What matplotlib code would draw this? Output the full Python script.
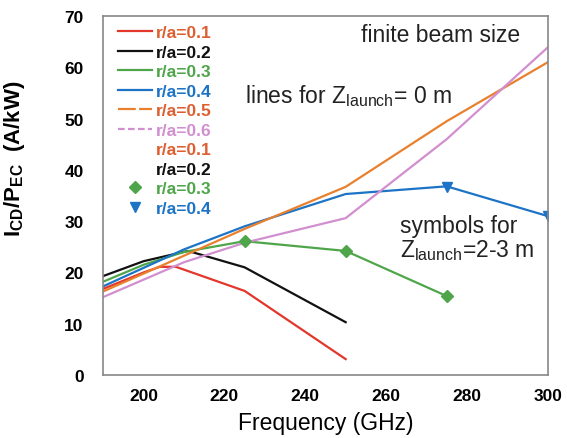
import matplotlib
matplotlib.use("Agg")
import matplotlib.pyplot as plt
from matplotlib.lines import Line2D

plt.rcParams['font.family'] = ['Liberation Sans', 'DejaVu Sans']
plt.rcParams['mathtext.fontset'] = 'custom'
plt.rcParams['mathtext.rm'] = 'Liberation Sans'
plt.rcParams['mathtext.bf'] = 'Liberation Sans:bold'

# Lines (Z_launch = 0 m)
f_01 = [190, 200, 204, 208, 225, 250]
v_01 = [16.8, 20.0, 21.1, 21.1, 16.4, 3.1]
f_02 = [190, 200, 211, 225, 250]
v_02 = [19.3, 22.2, 24.2, 21.0, 10.3]
f_03 = [190, 200, 210, 225, 250, 275]
v_03 = [18.2, 21.5, 24.0, 26.1, 24.2, 15.4]
f_04 = [190, 210, 225, 250, 275, 300]
v_04 = [17.3, 24.5, 29.0, 35.3, 36.8, 31.0]
f_05 = [190, 225, 250, 275, 300]
v_05 = [16.3, 28.5, 36.7, 49.5, 61.0]
f_06 = [190, 210, 225, 250, 275, 300]
v_06 = [15.2, 22.0, 25.8, 30.6, 46.0, 63.9]

# Symbols (Z_launch = 2-3 m)
fs_03 = [225, 250, 275]
vs_03 = [26.1, 24.2, 15.4]
fs_04 = [275, 300]
vs_04 = [36.6, 31.0]

labels = ['r/a=0.1', 'r/a=0.2', 'r/a=0.3', 'r/a=0.4', 'r/a=0.5', 'r/a=0.6']
sym_labels = ['r/a=0.1', 'r/a=0.2', 'r/a=0.3', 'r/a=0.4']
line_colors = ['#e2372a', '#111111', '#4fa64a', '#1d74c6', '#e8802e', '#d28fcf']
text_colors = ['#dd5f30', '#111111', '#4fa64a', '#1d74c6', '#dd5f30', '#d28fcf']
sym_colors = ['#dd5f30', '#111111', '#4fa64a', '#1d74c6']

fig = plt.figure(figsize=(5.67, 4.39), dpi=100)
ax = fig.add_axes([0.182, 0.1435, 0.784, 0.8175])

series = [(f_01, v_01), (f_02, v_02), (f_03, v_03), (f_04, v_04), (f_05, v_05), (f_06, v_06)]
for (f, v), c, lab in zip(series, line_colors, labels):
    ax.plot(f, v, color=c, lw=1.6, label=lab)

ax.plot(fs_03, vs_03, linestyle='none', marker='D', ms=6, color='#4fa64a')
ax.plot(fs_04, vs_04, linestyle='none', marker='v', ms=7, color='#1d74c6')

leg_styles = ['-', '-', '-', '-', (0, (8, 1.5)), (0, (3, 1.5))]
handles = [Line2D([], [], color=c, lw=1.6, linestyle=ls) for c, ls in zip(line_colors, leg_styles)]
sym_handles = [
    Line2D([], [], linestyle='none', marker='', color=sym_colors[0]),
    Line2D([], [], linestyle='none', marker='', color=sym_colors[1]),
    Line2D([], [], linestyle='none', marker='D', ms=6, color=sym_colors[2]),
    Line2D([], [], linestyle='none', marker='v', ms=7, color=sym_colors[3]),
]
all_handles = handles + sym_handles
all_labels = labels + sym_labels
all_text_colors = text_colors + sym_colors

leg = ax.legend(all_handles, all_labels, loc='upper left', bbox_to_anchor=(0.034, 0.975),
                frameon=False, prop={'size': 12.5, 'weight': 'bold'}, handlelength=1.95,
                handletextpad=0.2, labelspacing=0.25, borderaxespad=0, borderpad=0)
for t, c in zip(leg.get_texts(), all_text_colors):
    t.set_color(c)

ax.set_xlim(190, 300)
ax.set_ylim(0, 70)
ax.set_xticks([200, 220, 240, 260, 280, 300])
ax.set_yticks([0, 10, 20, 30, 40, 50, 60, 70])
ax.tick_params(axis='x', length=0, labelsize=12.5, pad=9)
ax.tick_params(axis='y', length=0, labelsize=12.5, pad=14)
for lab in ax.get_xticklabels() + ax.get_yticklabels():
    lab.set_fontweight('bold')
for s in ax.spines.values():
    s.set_color('#888888')
    s.set_linewidth(1.2)

ax.set_xlabel('Frequency (GHz)', fontsize=16.5, labelpad=6)
ax.set_ylabel(r'$\mathbf{I}_{\mathbf{CD}}\mathbf{/P}_{\mathbf{EC}}$  (A/kW)', fontsize=16, fontweight='bold')
ax.yaxis.set_label_coords(-0.171, 0.606)

tc = '#222222'
ax.text(0.937, 0.930, 'finite beam size', transform=ax.transAxes, fontsize=16.5,
        ha='right', va='baseline', color=tc)
ax.text(0.319, 0.760, r'lines for Z$_{\mathregular{launch}}$= 0 m', transform=ax.transAxes,
        fontsize=16.5, ha='left', va='baseline', color=tc)
ax.text(0.667, 0.398, 'symbols for', transform=ax.transAxes, fontsize=16.5,
        ha='left', va='baseline', color=tc)
ax.text(0.667, 0.331, r'Z$_{\mathregular{launch}}$=2-3 m', transform=ax.transAxes,
        fontsize=16.5, ha='left', va='baseline', color=tc)

fig.savefig('out.png', dpi=100)
